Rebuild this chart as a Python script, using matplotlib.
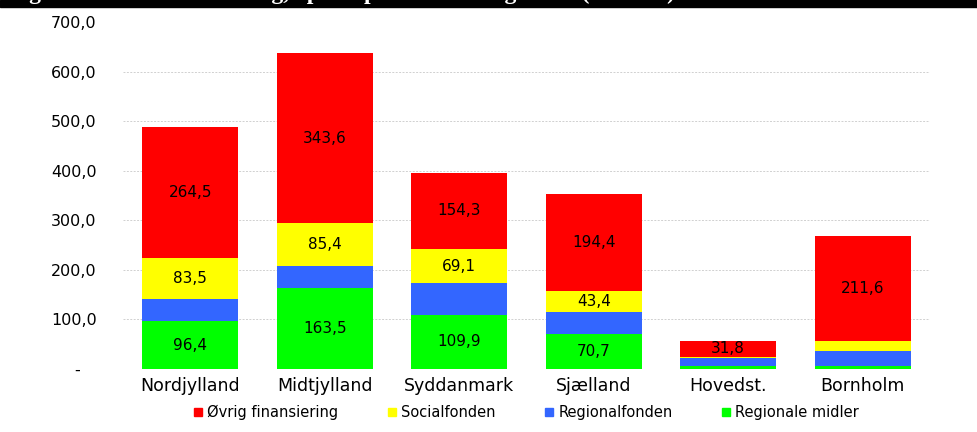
import matplotlib
matplotlib.use("Agg")
import matplotlib.pyplot as plt
from matplotlib.patches import Rectangle
from matplotlib.lines import Line2D

# the reference text is wide, so a wide sans family fits it better
plt.rcParams['font.family'] = ['DejaVu Sans']

# data
regioner = ["Nordjylland", "Midtjylland", "Syddanmark", "Sjælland", "Hovedst.", "Bornholm"]
regionale_midler = [96.4, 163.5, 109.9, 70.7, 6.5, 6.7]
regionalfonden = [44.7, 45.0, 62.8, 44.0, 15.0, 29.6]
socialfonden = [83.5, 85.4, 69.1, 43.4, 3.5, 20.2]
oevrig = [264.5, 343.6, 154.3, 194.4, 31.8, 211.6]

# which segments carry a value label
vis_groen = [True, True, True, True, False, False]
vis_gul = [True, True, True, True, False, False]
vis_roed = [True, True, True, True, True, True]

serier = [
    ("Regionale midler", regionale_midler, "#00FF00", vis_groen),
    ("Regionalfonden", regionalfonden, "#3366FF", None),
    ("Socialfonden", socialfonden, "#FFFF00", vis_gul),
    ("Øvrig finansiering", oevrig, "#FF0000", vis_roed),
]

W, H = 977, 432
fig = plt.figure(figsize=(W / 100, H / 100), dpi=100)
ax = fig.add_axes([123 / W, 63 / H, (930 - 123) / W, (410 - 63) / H])

x = list(range(len(regioner)))
bund = [0.0] * len(regioner)
for navn, vaerdier, farve, vis in serier:
    ax.bar(x, vaerdier, width=0.715, bottom=bund, color=farve, edgecolor='none', zorder=2)
    if vis is not None:
        for i, v in enumerate(vaerdier):
            if vis[i]:
                ax.text(i, bund[i] + v / 2, f"{v:.1f}".replace(".", ","),
                        ha='center', va='center', fontsize=11, color='black', zorder=3)
    bund = [b + v for b, v in zip(bund, vaerdier)]

ax.set_xlim(-0.5, len(regioner) - 0.5)
ax.set_ylim(0, 700)
yt = [0, 100, 200, 300, 400, 500, 600, 700]
ax.set_yticks(yt)
# Excel-style accounting format: zero is a dash with padding after it
ax.set_yticklabels(["-   "] + [f"{v:.1f}".replace(".", ",") for v in yt[1:]], fontsize=11.5)
ax.set_xticks(x)
ax.set_xticklabels(regioner, fontsize=12.5)
ax.tick_params(axis='y', length=0, pad=19)
ax.tick_params(axis='x', length=0, pad=6)
for s in ax.spines.values():
    s.set_visible(False)
for v in yt[1:-1]:
    ax.axhline(v, color='#d0d0d0', lw=0.7, ls=(0, (2, 1.5)), zorder=1)

# legend
handles = [Line2D([], [], marker='s', ls='none', color=c, markersize=6)
           for _, _, c, _ in reversed(serier)]
labels = [n for n, _, _, _ in reversed(serier)]
fig.legend(handles, labels, loc='center', bbox_to_anchor=(525 / W, 1 - 412 / H),
           ncol=4, frameon=False, fontsize=10.5, handletextpad=0.1, columnspacing=3.2,
           handlelength=1.0)

# cut-off title band at the top (only the descenders show)
fig.patches.append(Rectangle((0, 1 - 7 / H), 1, 7 / H, transform=fig.transFigure,
                             color='black', zorder=0))
fig.text(8 / W, 1 + 0.5 / H, "Figur 3. Aktivitetsfordeling, opdelt på finansieringskilde (mio. kr.)",
         color='white', fontsize=17, family='Liberation Serif', weight='bold',
         va='baseline', ha='left')

fig.savefig("out.png", dpi=100)
